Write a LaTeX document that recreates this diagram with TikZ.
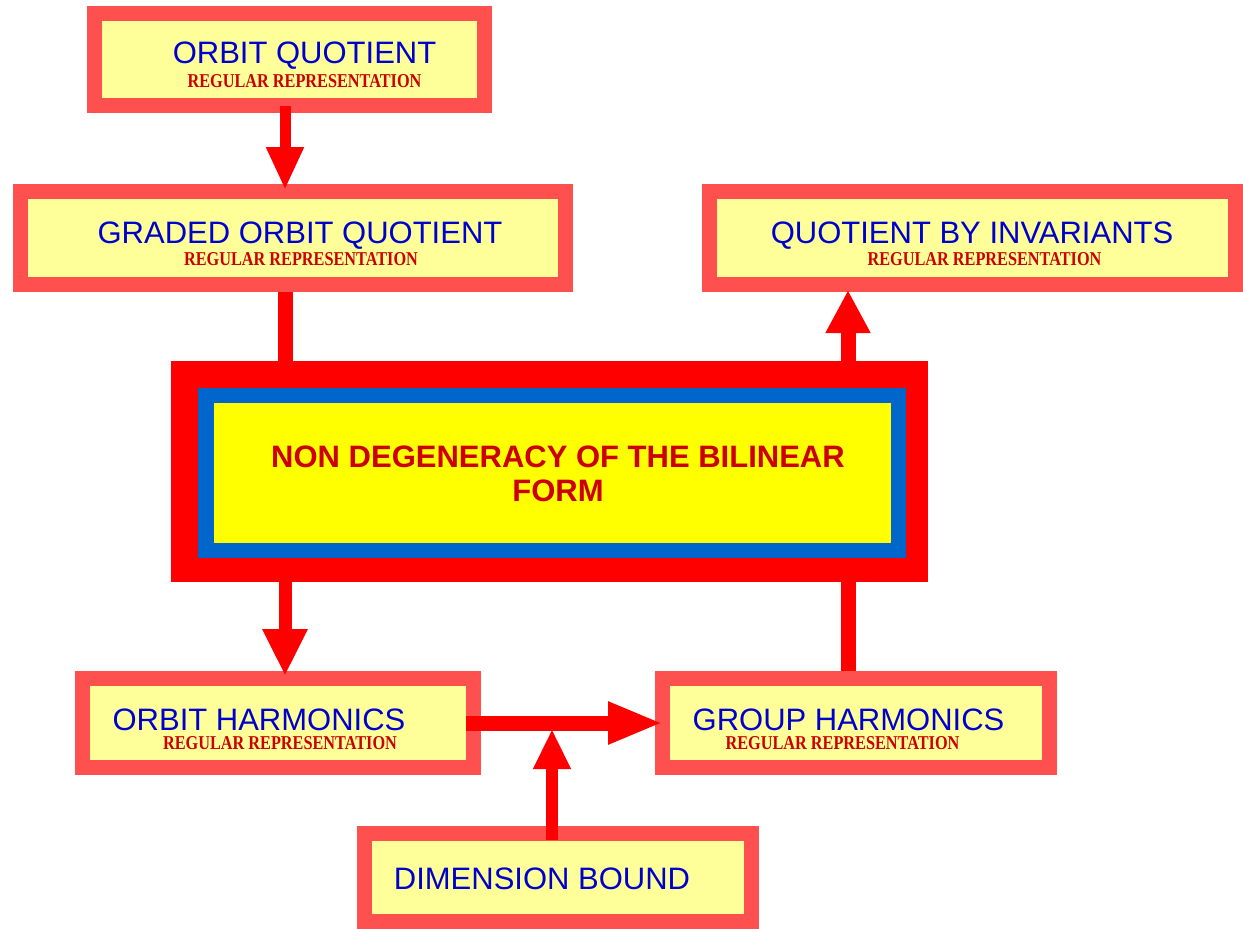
\documentclass[tikz,border=0pt]{standalone}
\usepackage{fontspec}
\setmainfont{Liberation Sans}
\newfontfamily\subfont{Liberation Serif}[FakeStretch=0.83]
\usetikzlibrary{arrows.meta}
\definecolor{boxred}{HTML}{FF5050}
\definecolor{boxfill}{HTML}{FFFF99}
\definecolor{arrowred}{HTML}{FF0000}
\definecolor{coreblue}{HTML}{0066CC}
\definecolor{coreyellow}{HTML}{FFFF00}
\definecolor{titleblue}{HTML}{0000CC}
\definecolor{subred}{HTML}{CC0000}
\begin{document}
\begin{tikzpicture}[x=1pt,y=-1pt,
  pbox/.style={draw=boxred, fill=boxfill, line width=15pt, inner sep=0pt},
  ttl/.style={anchor=base, text=titleblue, font=\fontsize{31}{34}\selectfont, inner sep=0pt},
  sub/.style={anchor=base, text=subred, font=\subfont\bfseries\fontsize{19.6}{22}\selectfont, inner sep=0pt},
  coretxt/.style={text=subred, font=\bfseries\fontsize{31}{34}\selectfont, inner sep=0pt, align=center},
  conn/.style={draw=arrowred, line width=#1, line cap=butt}]
\useasboundingbox (0,0) rectangle (1243,929);
\fill[white] (0,0) rectangle (1243,929);
\coordinate (colL) at (285,0);
\coordinate (colR) at (848,0);
\coordinate (jn) at (552,729);
% boxes
\node[pbox, minimum width=390pt, minimum height=92pt] (oq) at (289.5,59.5) {};
\node[pbox, minimum width=545pt, minimum height=93pt] (goq) at (293,238) {};
\node[pbox, minimum width=526pt, minimum height=93pt] (qi) at (972.5,238) {};
\node[pbox, minimum width=391pt, minimum height=89pt] (oh) at (278,723) {};
\node[pbox, minimum width=387pt, minimum height=89pt] (gh) at (856,723) {};
\node[pbox, minimum width=387pt, minimum height=88pt] (db) at (558,877.5) {};
% core
\node[fill=arrowred, minimum width=757pt, minimum height=221pt, inner sep=0pt, outer sep=0pt] (coreout) at (549.5,471.5) {};
\node[fill=coreblue, minimum width=708pt, minimum height=170pt, inner sep=0pt] (coremid) at (552,473) {};
\node[fill=coreyellow, minimum width=677pt, minimum height=140pt, inner sep=0pt] (corein) at (552.5,473) {};
\node[coretxt] (coretext) at (558,474) {NON DEGENERACY OF THE BILINEAR\\FORM};
% texts
\node[ttl] (t1) at (304.5,63) {ORBIT QUOTIENT};
\node[sub] (s1) at (304.5,87) {REGULAR REPRESENTATION};
\node[ttl] (t2) at (300,243) {GRADED ORBIT QUOTIENT};
\node[sub] (s2) at (301,265.5) {REGULAR REPRESENTATION};
\node[ttl] (t3) at (972,243) {QUOTIENT BY INVARIANTS};
\node[sub] (s3) at (984.5,265.5) {REGULAR REPRESENTATION};
\node[ttl] (t4) at (259,730) {ORBIT HARMONICS};
\node[sub] (s4) at (280,749) {REGULAR REPRESENTATION};
\node[ttl] (t5) at (848.5,730) {GROUP HARMONICS};
\node[sub] (s5) at (842.5,749) {REGULAR REPRESENTATION};
\node[ttl] (t6) at (542,889) {DIMENSION BOUND};
% connectors
\draw[conn=11pt, shorten <=-7pt, shorten >=-6pt, -{Triangle[length=43pt,width=35pt]}] (oq.south -| colL) -- (goq.north -| colL);
\draw[conn=15pt] (goq.south -| colL) -- (coreout.north -| colL);
\draw[conn=13pt, shorten >=-5pt, -{Triangle[length=47pt,width=42pt]}] (coreout.south -| colL) -- (oh.north -| colL);
\draw[conn=15pt, shorten >=-2pt, -{Triangle[length=43pt,width=42pt]}] (coreout.north -| colR) -- (qi.south -| colR);
\draw[conn=15pt] (gh.north -| colR) -- (coreout.south -| colR);
\draw[conn=15pt, shorten <=-15pt, shorten >=-8pt, -{Triangle[length=55pt,width=39pt]}] (oh.east) -- (gh.west);
\draw[conn=12pt, shorten <=-14pt, -{Triangle[length=40pt,width=35pt]}] (db.north -| jn) -- (jn);
\end{tikzpicture}
\end{document}
